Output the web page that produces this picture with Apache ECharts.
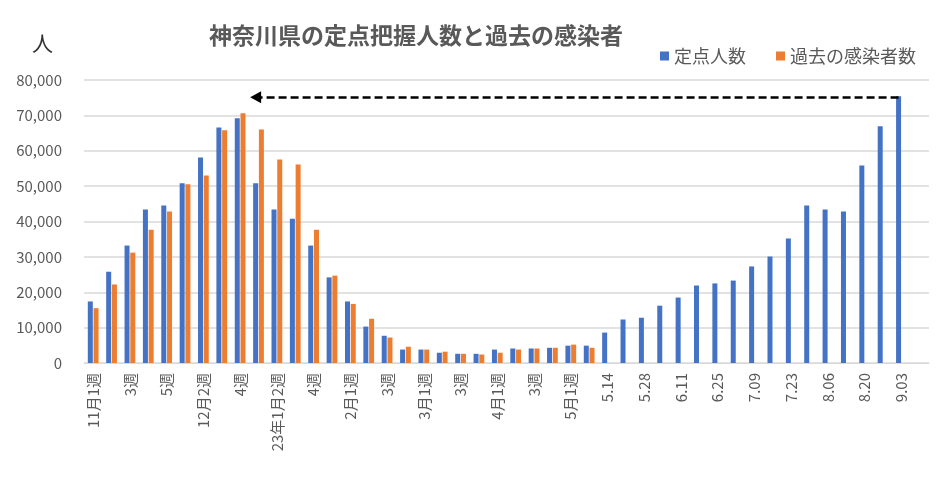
<!DOCTYPE html>
<html>
<head>
<meta charset="utf-8">
<script src="https://cdn.jsdelivr.net/npm/echarts@6/dist/echarts.min.js"></script>
<style>
html,body{margin:0;padding:0;background:#fff;}
#main{width:937px;height:481px;}
</style>
</head>
<body>
<div id="main"></div>
<script>
'use strict';
var FONT = '"Noto Sans CJK JP", "Noto Sans", sans-serif';

// 週ラベル (奇数番目は非表示)
var weeks = [
	'11月1週','2週','3週','4週','5週','12月1週','12月2週','3週','4週','1月1週',
	'23年1月2週','3週','4週','5週','2月1週','2週','3週','4週','3月1週','2週',
	'3週','4週','4月1週','2週','3週','4週','5月1週','2週','5.14','5.21',
	'5.28','6.04','6.11','6.18','6.25','7.02','7.09','7.16','7.23','7.30',
	'8.06','8.13','8.20','8.27','9.03',''
];

// 定点人数
var teiten = [
	17400,25800,33200,43400,44500,50800,58100,66600,69200,50800,
	43400,40800,33200,24200,17400,10300,7700,3800,3800,2900,
	2600,2600,3800,4100,4100,4300,4900,4900,8600,12300,
	12800,16200,18500,21900,22500,23300,27300,30100,35200,44500,
	43400,42800,55800,66900,75400,null
];

// 過去の感染者数
var kako = [
	15500,22200,31200,37700,42800,50500,53000,65800,70600,66000,
	57500,56100,37700,24700,16700,12500,7200,4600,3800,3200,
	2600,2400,2900,3800,4100,4300,5200,4300,null,null,
	null,null,null,null,null,null,null,null,null,null,
	null,null,null,null,null,null
];

var yTicks = [0,10000,20000,30000,40000,50000,60000,70000,80000];

var chart = echarts.init(document.getElementById('main'));
chart.setOption({
	animation:false,
	textStyle:{fontFamily:FONT},
	title:{
		text:'神奈川県の定点把握人数と過去の感染者',
		left:411,
		textAlign:'center',
		top:19,
		textStyle:{fontSize:23,fontWeight:'bold',color:'#595959',fontFamily:FONT}
	},
	graphic:[{
		type:'text',
		left:32,
		top:33,
		style:{text:'人',fontSize:21,fill:'#333',fontFamily:FONT}
	}],
	legend:{
		right:16,
		top:42,
		icon:'rect',
		itemWidth:9,
		itemHeight:9,
		itemGap:30,
		itemStyle:{borderWidth:0},
		textStyle:{fontSize:18,color:'#595959',fontFamily:FONT},
		data:['定点人数','過去の感染者数']
	},
	grid:{left:84,right:8,top:80,bottom:118},
	xAxis:{
		type:'category',
		data:weeks,
		axisLine:{lineStyle:{color:'#d9d9d9'}},
		axisTick:{show:false},
		axisLabel:{
			interval:1,
			rotate:90,
			fontSize:15,
			color:'#595959',
			margin:10,
			fontFamily:FONT
		}
	},
	yAxis:{
		type:'value',
		min:yTicks[0],
		max:yTicks[yTicks.length-1],
		interval:10000,
		axisLine:{show:false},
		axisTick:{show:false},
		splitLine:{lineStyle:{color:'#d9d9d9',width:1.5}},
		axisLabel:{
			fontSize:15,
			color:'#595959',
			margin:22,
			fontFamily:FONT,
			formatter:function(v){ return v.toLocaleString('en-US'); }
		}
	},
	series:[{
		name:'定点人数',
		type:'bar',
		data:teiten,
		barWidth:5,
		barGap:'15%',
		itemStyle:{color:'#4472C4'},
		markLine:{
			silent:true,
			symbol:['none','triangle'],
			symbolSize:[12,11],
			label:{show:false},
			lineStyle:{color:'#000',width:2.5,type:[8,4]},
			data:[[{coord:[43.7,75100]},{coord:[9.4,75100]}]]
		}
	},{
		name:'過去の感染者数',
		type:'bar',
		data:kako,
		barWidth:5,
		itemStyle:{color:'#ED7D31'}
	}]
});
</script>
</body>
</html>
